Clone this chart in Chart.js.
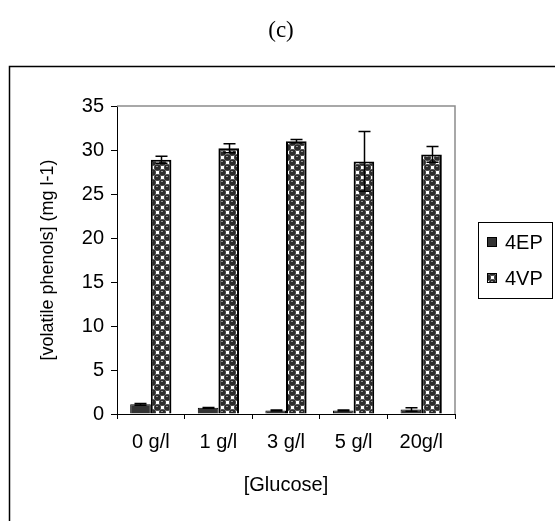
<!DOCTYPE html>
<html>
<head>
<meta charset="utf-8">
<script src="https://cdn.jsdelivr.net/npm/chart.js@4.4.1/dist/chart.umd.min.js"></script>
<style>
    body { margin: 0; background: #fff; }
    canvas { display: block; }
</style>
</head>
<body>
<canvas id="phenols-chart" width="555" height="521"></canvas>
<script>
// Datos
const categorias = ['0 g/l', '1 g/l', '3 g/l', '5 g/l', '20g/l'];
const valores4EP = [1.1, 0.7, 0.4, 0.4, 0.5];
const errores4EP = [0.1, 0.05, 0.05, 0.05, 0.2];
const valores4VP = [28.9, 30.2, 31.0, 28.7, 29.5];
const errores4VP = [0.4, 0.5, 0.2, 3.4, 0.9];
const series = ['4EP', '4VP'];
const yTicks = [0, 5, 10, 15, 20, 25, 30, 35];

const FONT = 'Liberation Sans, Arial, sans-serif';

// Trama de esferas para 4VP
function makePattern() {
    const c = document.createElement('canvas');
    c.width = 10;
    c.height = 10;
    const g = c.getContext('2d');
    g.fillStyle = '#a0a0a0';
    g.fillRect(0, 0, 10, 10);
    g.fillStyle = '#ffffff';
    g.fillRect(6, 1, 3, 3);
    g.fillRect(1, 6, 3, 3);
    [[2.5, 2.5], [7.5, 7.5], [7.5, -2.5], [-2.5, 7.5], [-2.5, -2.5], [12.5, 2.5], [2.5, 12.5], [12.5, 12.5]].forEach(([x, y]) => {
        g.beginPath();
        g.arc(x, y, 3.3, 0, Math.PI * 2);
        g.fillStyle = '#2c2c2c';
        g.fill();
    });
    g.fillStyle = '#909090';
    g.fillRect(1, 1, 2, 1);
    g.fillRect(6, 6, 2, 1);
    return g.createPattern(c, 'repeat');
}

const patron = makePattern();

// Barras de error, título, marco y leyenda
const extras = {
    id: 'extras',
    afterDatasetsDraw(chart) {
        const ctx = chart.ctx;
        const y = chart.scales.y;
        const errs = [errores4EP, errores4VP];
        ctx.save();
        ctx.strokeStyle = '#000';
        ctx.lineWidth = 1.5;
        chart.data.datasets.forEach((ds, di) => {
            const meta = chart.getDatasetMeta(di);
            meta.data.forEach((bar, i) => {
                const v = ds.data[i];
                const e = errs[di][i];
                const top = y.getPixelForValue(v + e);
                const bot = y.getPixelForValue(v - e);
                const x = Math.round(bar.x) + 0.5;
                ctx.beginPath();
                ctx.moveTo(x, top);
                ctx.lineTo(x, bot);
                ctx.moveTo(x - 6, top);
                ctx.lineTo(x + 6, top);
                ctx.moveTo(x - 6, bot);
                ctx.lineTo(x + 6, bot);
                ctx.stroke();
            });
        });
        ctx.restore();
    },
    afterDraw(chart) {
        const ctx = chart.ctx;
        const a = chart.chartArea;
        ctx.save();
        // título
        ctx.fillStyle = '#000';
        ctx.font = '23px Liberation Serif, Times New Roman, serif';
        ctx.textAlign = 'center';
        ctx.textBaseline = 'middle';
        ctx.fillText('(c)', 281, 31);
        // borde gris del área de trazado
        ctx.strokeStyle = '#8c8c8c';
        ctx.lineWidth = 1.5;
        ctx.beginPath();
        ctx.moveTo(a.left, a.top);
        ctx.lineTo(a.right, a.top);
        ctx.lineTo(a.right, a.bottom);
        ctx.stroke();
        // marco exterior
        ctx.strokeStyle = '#000';
        ctx.lineWidth = 1.5;
        ctx.beginPath();
        ctx.moveTo(9.5, 521);
        ctx.lineTo(9.5, 66.5);
        ctx.lineTo(555, 66.5);
        ctx.stroke();
        // leyenda
        ctx.lineWidth = 1;
        ctx.strokeRect(478.5, 222.5, 74, 76);
        const fills = ['#333333', patron];
        const rows = [242, 278];
        ctx.font = '20px ' + FONT;
        ctx.textAlign = 'left';
        ctx.textBaseline = 'middle';
        series.forEach((s, i) => {
            ctx.fillStyle = fills[i];
            ctx.fillRect(487, rows[i] - 5, 10, 10);
            ctx.strokeStyle = '#000';
            ctx.strokeRect(487.5, rows[i] - 4.5, 9, 9);
            ctx.fillStyle = '#000';
            ctx.fillText(s, 505, rows[i] + 1);
        });
        ctx.restore();
    }
};

const ctx = document.getElementById('phenols-chart').getContext('2d');
window.phenolsChart = new Chart(ctx, {
    type: 'bar',
    data: {
        labels: categorias,
        datasets: [{
            label: series[0],
            data: valores4EP,
            backgroundColor: '#333333',
            borderColor: '#000',
            borderWidth: 1
        }, {
            label: series[1],
            data: valores4VP,
            backgroundColor: patron,
            borderColor: '#000',
            borderWidth: 2
        }]
    },
    options: {
        responsive: false,
        animation: false,
        categoryPercentage: 0.61,
        barPercentage: 1.0,
        layout: { padding: { top: 106, right: 100, left: 0, bottom: 0 } },
        plugins: {
            legend: { display: false },
            tooltip: { enabled: false },
            title: { display: false }
        },
        scales: {
            x: {
                afterFit: s => { s.height = 107; },
                grid: { drawOnChartArea: false, tickLength: 5, color: '#000' },
                border: { color: '#000', width: 1 },
                ticks: { color: '#000', padding: 11, font: { family: FONT, size: 20 } },
                title: {
                    display: true,
                    text: '[Glucose]',
                    color: '#000',
                    font: { family: FONT, size: 20 },
                    padding: { top: 0, bottom: 24 }
                }
            },
            y: {
                min: 0,
                max: 35,
                afterFit: s => { s.width = 117; },
                afterBuildTicks: s => { s.ticks = yTicks.map(v => ({ value: v })); },
                grid: { drawOnChartArea: false, tickLength: 6, color: '#000' },
                border: { color: '#000', width: 1 },
                ticks: { color: '#000', padding: 7, font: { family: FONT, size: 20 } },
                title: {
                    display: true,
                    text: '[volatile phenols] (mg l-1)',
                    color: '#000',
                    font: { family: FONT, size: 18 },
                    padding: { top: 37, bottom: 0 }
                }
            }
        }
    },
    plugins: [extras]
});
</script>
</body>
</html>
